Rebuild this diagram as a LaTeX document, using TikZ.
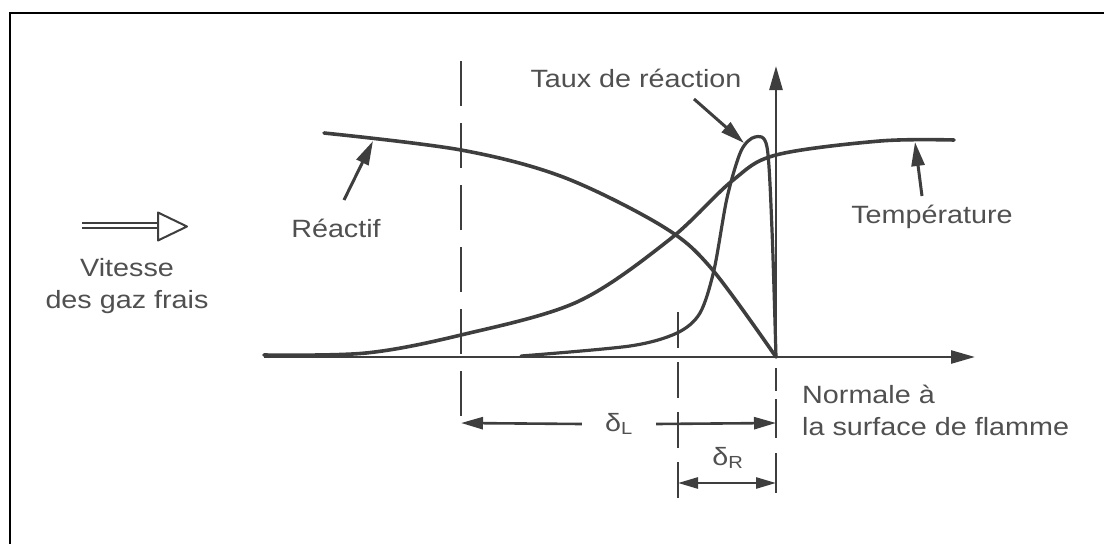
\documentclass[tikz,border=0pt]{standalone}
\usepackage{fontspec}
\newfontfamily\labelfont{Liberation Sans}[FakeStretch=1.15]
\usetikzlibrary{arrows.meta,positioning}
\definecolor{ink}{RGB}{62,62,62}
\definecolor{textgray}{RGB}{80,80,80}

\begin{document}
\begin{tikzpicture}[
    x=1pt, y=-1pt,
    lbl/.style={font=\labelfont\fontsize{25}{32}\selectfont, text=textgray, inner sep=2pt},
    curve/.style={ink, line width=3.6pt, line cap=round},
    axis/.style={ink, line width=2.6pt, -{Triangle[length=24pt,width=13pt]}},
    pointer/.style={ink, line width=3pt, -{Triangle[length=24pt,width=13pt]}},
    guide/.style={ink, line width=2.3pt},
    dim/.style={ink, line width=2.6pt, -{Triangle[length=22pt,width=12pt]}}
  ]
  \useasboundingbox (0,0) rectangle (1104,544);
  \draw[black, line width=2.8pt] (1104,13) -- (10,13) -- (10,544);

  % axes
  \coordinate (xstart) at (264,357);
  \coordinate (xend) at (975,357);
  \coordinate (origin) at (776,357);
  \coordinate (ytop) at (776,66);
  \draw[axis] (xstart) -- (xend);
  \draw[axis] (origin) -- (ytop);

  % dashed guides
  \coordinate (gLtop) at (461,61);
  \coordinate (gLbot) at (461,432);
  \coordinate (gMtop) at (678,312);
  \coordinate (gMbot) at (678,498);
  \coordinate (gRtop) at (776,368);
  \coordinate (gRbot) at (776,493);
  \draw[guide, dash pattern=on 45pt off 17pt] (gLtop) -- (gLbot);
  \draw[guide, dash pattern=on 36pt off 14pt] (gMtop) -- (gMbot);
  \draw[guide, dash pattern=on 23pt off 8pt on 39pt off 15pt on 40pt off 10pt] (gRtop) -- (gRbot);

  % profiles
  \draw[curve] plot[smooth, tension=0.55] coordinates {(324,133) (461,150) (563,177) (662,226) (711,268) (776,357)};
  \draw[curve] plot[smooth, tension=0.55] coordinates {(264,355) (366,353) (461,335) (577,302) (669,240) (732,181) (776,155) (880,141) (954,140)};
  \draw[curve, line width=3.2pt] plot[smooth, tension=0.5] coordinates {(521,356) (630,346) (677,333) (700,313) (714,270) (727,198) (741,151) (755,137) (767,147) (772,230) (776,357)};

  % labels
  \node[lbl] (taux) at (636,78) {Taux de réaction};
  \node[lbl] (reactif) at (336,228) {Réactif};
  \node[lbl] (temp) at (932,217) {Température};
  \node[lbl, align=center] (vitesse) at (127,286) {Vitesse\\des gaz frais};
  \node[lbl, align=left, anchor=west] (normale) at (800,410) {Normale à\\la surface de flamme};

  \coordinate (tauxtail) at (694,99);
  \coordinate (tauxtip) at (744,143);
  \coordinate (reactiftail) at (344,200);
  \coordinate (reactiftip) at (373,141);
  \coordinate (temptail) at (922,196);
  \coordinate (temptip) at (915,142);
  \draw[pointer] (tauxtail) -- (tauxtip);
  \draw[pointer] (reactiftail) -- (reactiftip);
  \draw[pointer] (temptail) -- (temptip);

  % incoming flow
  \coordinate (flowtail) at (82,225.5);
  \coordinate (flowbase) at (158,225.5);
  \coordinate (flowtip) at (187,226.5);
  \draw[ink, line width=1.8pt, double=white, double distance=3.4pt] (flowtail) -- (flowbase);
  \draw[ink, line width=2pt, fill=white, line join=round] ([yshift=13pt]flowbase) -- (flowtip) -- ([yshift=-15pt]flowbase) -- cycle;

  % thicknesses
  \node[lbl, inner xsep=23pt] (dL) at (619,424) {δ\textsubscript{L}};
  \coordinate (dLleft) at (461,423);
  \coordinate (dLright) at (776,423);
  \draw[dim] (dL.west) -- (dLleft);
  \draw[dim] (dL.east) -- (dLright);
  \node[lbl] (dR) at (728,458) {δ\textsubscript{R}};
  \coordinate (dRleft) at (678,483);
  \coordinate (dRright) at (776,483);
  \draw[dim, {Triangle[length=20pt,width=11pt]}-{Triangle[length=20pt,width=11pt]}] (dRleft) -- (dRright);
\end{tikzpicture}
\end{document}
